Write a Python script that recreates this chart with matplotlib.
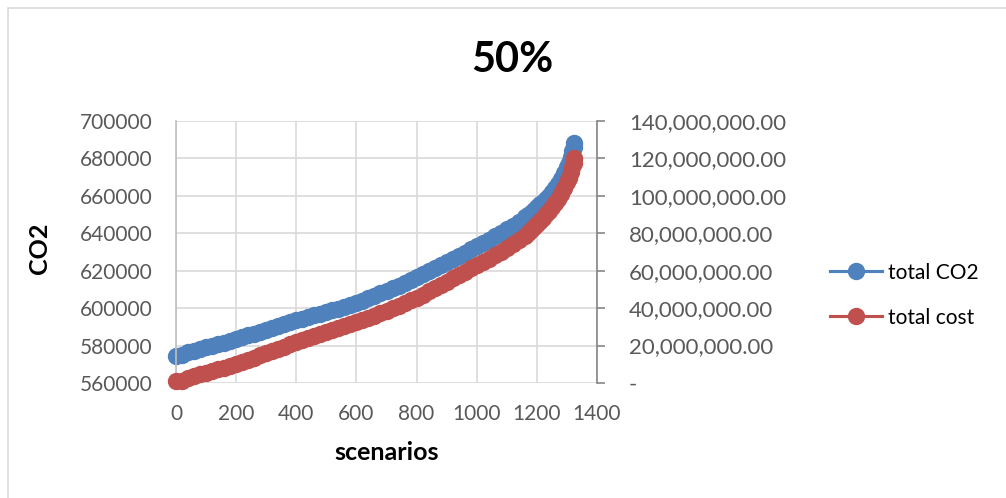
import matplotlib
matplotlib.use("Agg")
import matplotlib.pyplot as plt
from matplotlib.lines import Line2D
from matplotlib.patches import Rectangle
from matplotlib.ticker import FuncFormatter, MultipleLocator

plt.rcParams['font.family'] = ['Lato', 'DejaVu Sans']

# scenario index (sorted) and the two totals for the 50% case
scenarios = [0, 20, 40, 60, 80, 100, 120, 140, 160, 180,
             200, 220, 240, 260, 280, 300, 320, 340, 360, 380,
             400, 420, 440, 460, 480, 500, 520, 540, 560, 580,
             600, 620, 640, 660, 680, 700, 720, 740, 760, 780,
             800, 820, 840, 860, 880, 900, 920, 940, 960, 980,
             1000, 1020, 1040, 1060, 1080, 1100, 1120, 1140, 1160,
             1170, 1180, 1190, 1200, 1210, 1220, 1230, 1240, 1250, 1260,
             1270, 1280, 1290, 1300,
             1306, 1312, 1318, 1322, 1325]
total_co2 = [574600, 574900, 576300, 577200, 578100, 579000, 579900, 580700, 581600, 582500,
             583400, 584400, 585400, 586400, 587400, 588400, 589400, 590400, 591400, 592400,
             593400, 594300, 595200, 596100, 597000, 597900, 598900, 599800, 600800, 601800,
             602800, 604000, 605300, 606600, 607900, 609200, 610600, 612000, 613500, 615000,
             616500, 618000, 619600, 621200, 622800, 624400, 626100, 627800, 629600, 631400,
             633200, 634900, 636600, 638400, 640200, 642100, 644000, 646200, 648600,
             649800, 651100, 652500, 654000, 655400, 656800, 658400, 660000, 661900, 664000,
             666300, 669000, 672000, 675500,
             677800, 680500, 684000, 686300, 688500]
total_cost = [1200000, 1300000, 2900000, 3800000, 4700000, 5500000, 6400000, 7300000, 8200000, 9100000,
              10000000, 11100000, 12300000, 13500000, 14700000, 15900000, 17100000, 18300000, 19500000, 20700000,
              21800000, 22800000, 23900000, 24900000, 26000000, 27000000, 28100000, 29200000, 30300000, 31400000,
              32500000, 33600000, 34800000, 36000000, 37300000, 38600000, 39900000, 41300000, 42700000, 44100000,
              45600000, 47200000, 48900000, 50600000, 52400000, 54100000, 55900000, 57700000, 59500000, 61300000,
              63100000, 64800000, 66500000, 68300000, 70200000, 72200000, 74300000, 76500000, 78800000,
              80200000, 81600000, 83200000, 84800000, 86500000, 88200000, 90100000, 92000000, 94000000, 96000000,
              98300000, 101000000, 104000000, 107300000,
              109800000, 112700000, 115500000, 117600000, 120000000]

BLUE = '#4F81BD'
RED = '#C0504D'
TICK = '#595959'
GRID = '#D9D9D9'

fig = plt.figure(figsize=(10.06, 4.98), dpi=100)
fig.patches.append(Rectangle((8 / 1006, -0.1), 1.2, 0.1 + 490 / 498,
                             transform=fig.transFigure, fill=False,
                             edgecolor=GRID, lw=1.2))

ax = fig.add_axes([176 / 1006, 115 / 498, 421 / 1006, 262 / 498])
ax2 = ax.twinx()

ax.plot(scenarios, total_co2, color=BLUE, lw=2.25, marker='o', ms=11.5,
        mec=BLUE, mfc=BLUE, label='total CO2', clip_on=False)
ax2.plot(scenarios, total_cost, color=RED, lw=2.25, marker='o', ms=11.5,
         mec=RED, mfc=RED, label='total cost', clip_on=False)

ax.set_xlim(0, 1400)
ax.set_ylim(560000, 700000)
ax2.set_ylim(0, 140000000)
ax.xaxis.set_major_locator(MultipleLocator(200))
ax.yaxis.set_major_locator(MultipleLocator(20000))
ax2.yaxis.set_major_locator(MultipleLocator(20000000))

ax.grid(True, color=GRID, lw=1.2)
ax.set_axisbelow(True)

for s in ['top', 'bottom']:
    ax.spines[s].set_visible(False)
    ax2.spines[s].set_visible(False)
ax.spines['left'].set_color('#BFBFBF')
ax.spines['left'].set_linewidth(1.2)
ax.spines['right'].set_visible(False)
ax2.spines['left'].set_visible(False)
ax2.spines['right'].set_color('#868686')
ax2.spines['right'].set_linewidth(1.2)

ax.tick_params(axis='y', length=0, pad=17, labelsize=15, labelcolor=TICK)
ax.tick_params(axis='x', length=0, pad=15, labelsize=15, labelcolor=TICK)
ax2.tick_params(axis='y', length=6, width=1.2, color='#868686', pad=17,
                labelsize=16, labelcolor=TICK)


def cost_fmt(v, pos):
    if abs(v) < 1:
        return '-'
    return '{:,.2f}'.format(v)


ax2.yaxis.set_major_formatter(FuncFormatter(cost_fmt))

fig.text(512 / 1006, 1 - 60 / 498, '50%', ha='center', va='center',
         fontsize=30, fontweight='bold')
fig.text(40 / 1006, 1 - 248 / 498, 'CO2', ha='center', va='center',
         rotation=90, fontsize=18, fontweight='bold')
fig.text(387 / 1006, 1 - 452 / 498, 'scenarios', ha='center', va='center',
         fontsize=18, fontweight='bold')

handles = [Line2D([], [], color=BLUE, lw=2.25, marker='o', ms=11.5),
           Line2D([], [], color=RED, lw=2.25, marker='o', ms=11.5)]
fig.legend(handles, ['total CO2', 'total cost'], loc='center left',
           bbox_to_anchor=(822 / 1006, 1 - 295 / 498), frameon=False,
           fontsize=15, handlelength=2.5, handletextpad=0.25,
           labelspacing=1.2, numpoints=1, borderaxespad=0)

fig.savefig('out.png', dpi=100)
